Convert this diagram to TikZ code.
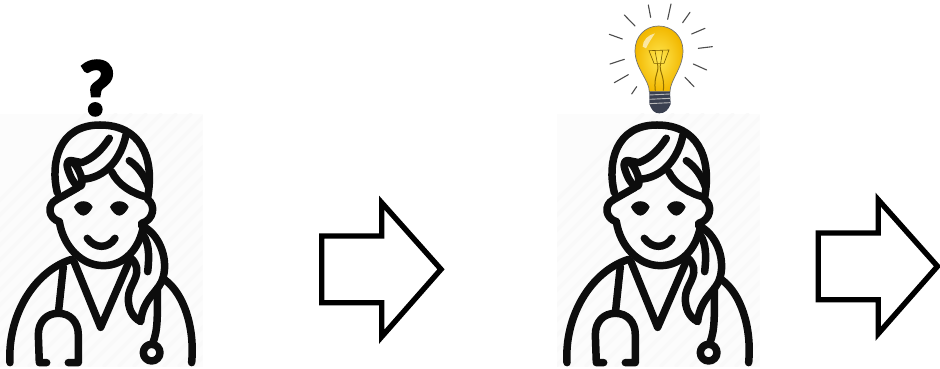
\documentclass[tikz,border=0pt]{standalone}
\usepackage{fontspec}
\setmainfont{Carlito}
\newfontface\qmarkfont{Carlito Bold}[FakeBold=4]
\tikzset{
  docline/.style={draw=black!95,line width=7.5pt,line cap=round,line join=round},
  stripe/.style={draw=black!2.5,line width=3pt},
  arrowbox/.style={draw=black,line width=5.4pt,miter limit=10,fill=white},
  ray/.style={draw=black!70,line width=1.1pt,line cap=round},
}
\definecolor{bulbcore}{HTML}{FFE650}
\definecolor{bulbrim}{HTML}{F2B800}
\definecolor{bulbbase}{HTML}{3A4050}
\newcommand{\doctorfig}[1]{%
\begin{scope}[xshift=#1pt,yshift=-50pt,x=0.3333pt,y=-0.3333pt]
  \fill[black!1] (0,192) rectangle (608,950);
  \begin{scope}
    \clip (0,192) rectangle (608,950);
    \foreach \k in {0,45,...,1400}{\draw[stripe] (\k-500,950) -- (\k+260,190);}
  \end{scope}
  % head and hair
  \draw[docline] (172,428) .. controls (150,340) and (175,225) .. (300,225) .. controls (420,225) and (465,320) .. (443,442);
  \draw[docline] (328,265) .. controls (305,300) and (280,325) .. (245,338) -- (215,332);
  \draw[docline] (215,332) .. controls (195,330) and (200,350) .. (210,375) .. controls (220,400) and (240,420) .. (245,405) .. controls (250,385) and (235,350) .. (215,332);
  \draw[docline] (378,255) .. controls (365,320) and (320,385) .. (245,388);
  \draw[docline] (235,412) -- (168,450);
  \draw[docline] (335,365) .. controls (355,405) and (395,430) .. (443,442);
  \draw[docline] (388,332) .. controls (415,350) and (435,380) .. (445,410);
  % ears and face
  \draw[docline] (168,450) .. controls (140,465) and (145,505) .. (178,515);
  \draw[docline] (178,515) .. controls (190,590) and (245,647) .. (310,647) .. controls (370,647) and (420,600) .. (432,520);
  \draw[docline] (443,448) .. controls (468,465) and (462,510) .. (425,520);
  % eyes and smile
  \fill[black!95] (222,471) .. controls (232,448) and (268,448) .. (278,471) .. controls (272,485) and (260,497) .. (250,497) .. controls (240,497) and (228,485) .. (222,471) -- cycle;
  \fill[black!95] (330,471) .. controls (340,448) and (376,448) .. (386,471) .. controls (380,485) and (368,497) .. (358,497) .. controls (348,497) and (336,485) .. (330,471) -- cycle;
  \draw[docline] (262,565) .. controls (285,597) and (325,597) .. (345,565);
  % ponytail
  \draw[docline] (425,527) .. controls (475,550) and (505,620) .. (490,680) .. controls (480,725) and (430,740) .. (422,815) .. controls (395,800) and (385,775) .. (385,745) .. controls (385,705) and (425,680) .. (405,640) .. controls (400,630) and (395,625) .. (385,622);
  \draw[docline] (430,555) .. controls (450,585) and (447,630) .. (443,665);
  % shoulders and collar
  \draw[docline] (30,938) .. controls (22,800) and (100,665) .. (215,628);
  \draw[docline] (495,690) .. controls (550,730) and (585,830) .. (575,938);
  \draw[docline] (222,635) -- (302,832) -- (385,640);
  % stethoscope
  \draw[docline] (190,650) -- (175,790);
  \draw[docline] (140,938) -- (118,938) -- (115,855) .. controls (115,815) and (140,790) .. (175,790) .. controls (210,790) and (235,815) .. (235,855) -- (235,938) -- (205,938);
  \draw[docline] (472,715) .. controls (472,790) and (475,840) .. (458,880);
  \draw[docline] (455,908) circle [radius=25];
\end{scope}}
\begin{document}
\begin{tikzpicture}[x=1pt,y=-1pt]
  \useasboundingbox[fill=white] (0,0) rectangle (940,369);
  \doctorfig{0}
  \doctorfig{557}
  \node[font=\qmarkfont\fontsize{78}{78}\selectfont,inner sep=0pt,text=black] (question) at (97,88) {?};
  % arrows
  \draw[arrowbox] (321.7,236) -- (381.7,236) -- (381.7,202.7) -- (441,269.3) -- (381.7,336.7) -- (381.7,302.7) -- (321.7,302.7) -- cycle;
  \draw[arrowbox] (818.2,233) -- (878.2,233) -- (878.2,199.7) -- (937.5,266.3) -- (878.2,333.7) -- (878.2,299.7) -- (818.2,299.7) -- cycle;
  % light bulb
  \begin{scope}[xshift=590pt,x=0.3333pt,y=-0.3333pt]
    \foreach \a/\b/\c/\d in {175/15/182/52, 243/12/233/58, 300/37/278/68, 345/85/305/102, 367/140/325/145, 350/210/310/192, 312/260/285/232, 103/45/135/78, 58/103/97/117, 60/192/103/178, 73/248/115/224, 125/282/140/260}
      {\draw[ray] (\a,\b) -- (\c,\d);}
    \shade[inner color=bulbcore,outer color=bulbrim,draw=black!55,line width=0.7pt]
      (178,275) .. controls (178,240) and (135,205) .. (135,152) .. controls (135,110) and (165,78) .. (206,78) .. controls (247,78) and (279,110) .. (279,152) .. controls (279,205) and (240,240) .. (240,275) -- cycle;
    \fill[white,opacity=0.6] (158,140) .. controls (158,120) and (175,105) .. (195,100) .. controls (185,115) and (175,130) .. (168,145) -- cycle;
    \draw[black!50!bulbrim,line width=0.6pt] (177,152) -- (237,150) -- (222,190) -- (192,190) -- cycle;
    \draw[black!50!bulbrim,line width=0.6pt] (195,152) -- (202,190) (218,151) -- (212,190);
    \draw[black!40!bulbrim,line width=1pt] (202,190) .. controls (210,215) and (190,225) .. (196,272) (212,190) .. controls (205,215) and (225,225) .. (220,272);
    \fill[bulbbase] (178,275) -- (240,275) -- (242,312) .. controls (235,330) and (225,340) .. (208,340) .. controls (192,340) and (185,330) .. (178,312) -- cycle;
    \foreach \y in {285,298,311}{\draw[white!45!gray,line width=0.9pt] (178,\y) -- (241,\y-3);}
  \end{scope}
\end{tikzpicture}
\end{document}
